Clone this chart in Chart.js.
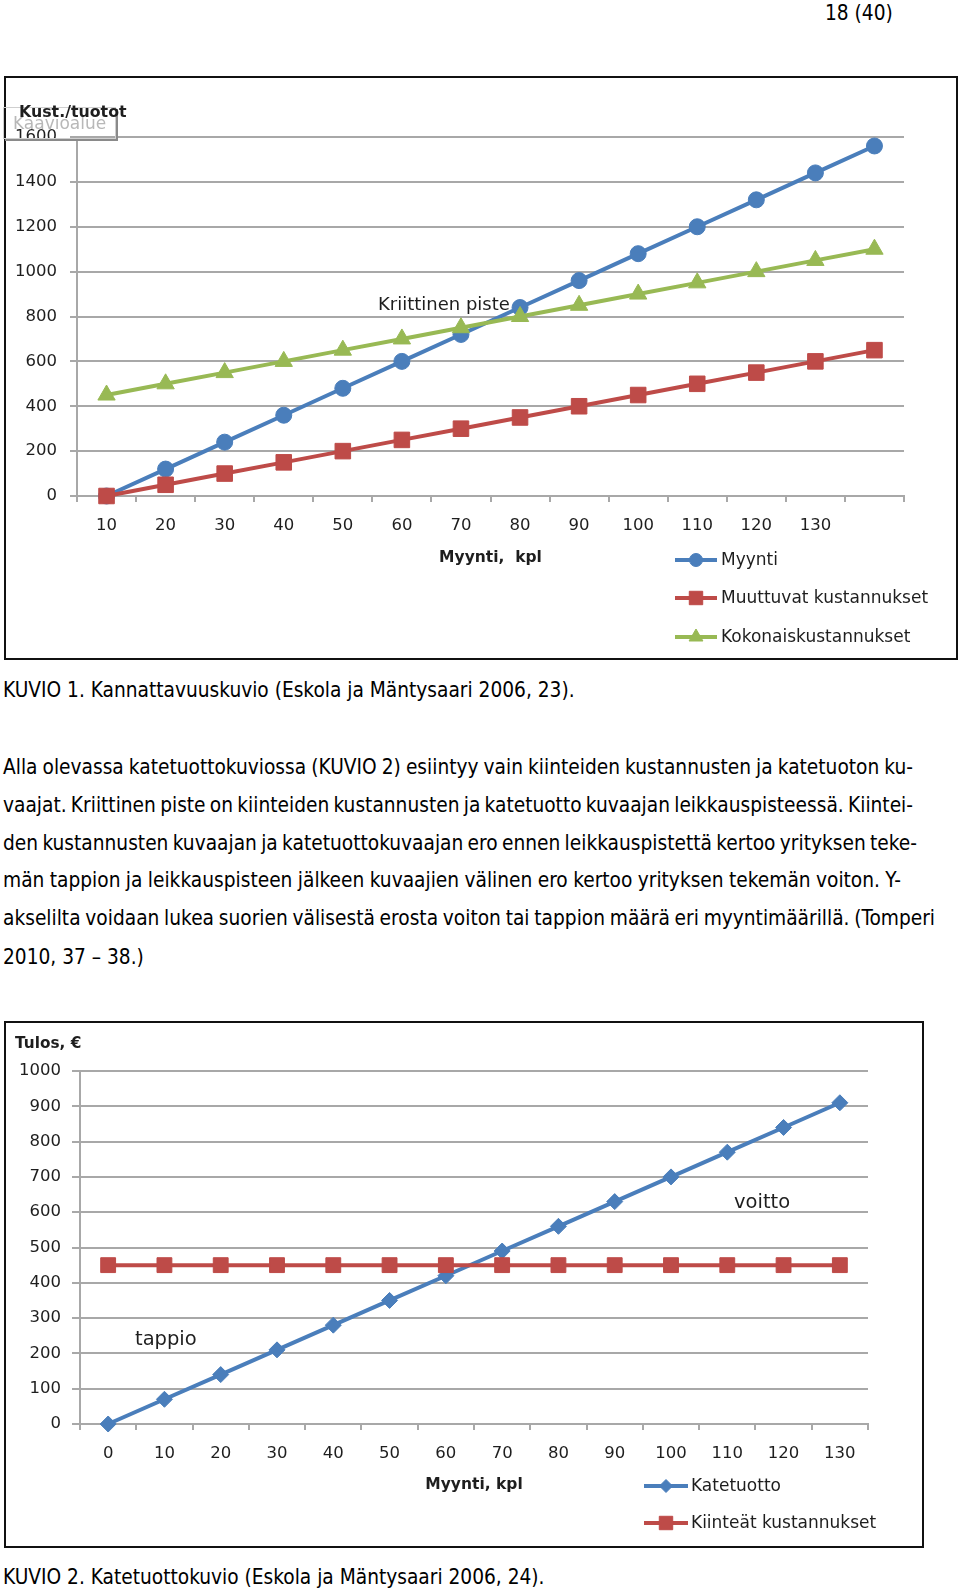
<!DOCTYPE html>
<html><head><meta charset="utf-8">
<script src="https://cdn.jsdelivr.net/npm/chart.js@4.4.1/dist/chart.umd.min.js"></script>
<style>
html,body{margin:0;padding:0;background:#fff;}
body{width:960px;height:1589px;position:relative;overflow:hidden;}
.t{position:absolute;white-space:nowrap;font-family:"DejaVu Sans Condensed","DejaVu Sans",sans-serif;color:#000;line-height:24px;height:24px;font-size:19px;}
.frame{position:absolute;border:2px solid #111;box-sizing:border-box;}
.frame canvas{position:absolute;left:0;top:0;}
.ann{position:absolute;white-space:nowrap;font-family:"DejaVu Sans",sans-serif;color:#1e1e1e;line-height:1;}
.ytitle{position:absolute;white-space:nowrap;font-family:"DejaVu Sans",sans-serif;font-weight:bold;color:#1e1e1e;line-height:1;z-index:3;}
#tip{position:absolute;left:3px;top:107px;width:111px;height:30px;border:1px solid #cfcfcf;box-shadow:2px 2px 0 #8a8a8a;z-index:2;}
#tip span{position:absolute;left:9px;top:7px;font-family:"DejaVu Sans",sans-serif;font-size:17px;color:#b8b8b8;line-height:1;}
</style></head>
<body>
<div class="t" id="pg" style="left:825px;top:1px;">18 (40)</div>

<div class="frame" style="left:4px;top:76px;width:954px;height:584px;"><canvas id="c1" width="950" height="580" style="width:950px;height:580px;"></canvas></div>
<div class="ytitle" style="left:19px;top:104px;font-size:15.8px;">Kust./tuotot</div>
<div id="tip"><span>Kaavioalue</span></div>
<div class="ann" style="left:378px;top:295px;font-size:18px;">Kriittinen piste</div>

<div class="t cap" id="cap1" data-w="572" style="left:3px;top:678px;">KUVIO 1. Kannattavuuskuvio (Eskola ja Mäntysaari 2006, 23).</div>

<div class="t j" data-w="910" style="left:3px;top:755px;">Alla olevassa katetuottokuviossa (KUVIO 2) esiintyy vain kiinteiden kustannusten ja katetuoton ku-</div>
<div class="t j" data-w="910" style="left:3px;top:793px;">vaajat. Kriittinen piste on kiinteiden kustannusten ja katetuotto kuvaajan leikkauspisteessä. Kiintei-</div>
<div class="t j" data-w="914" style="left:3px;top:831px;">den kustannusten kuvaajan ja katetuottokuvaajan ero ennen leikkauspistettä kertoo yrityksen teke-</div>
<div class="t j" data-w="898" style="left:3px;top:868px;">män tappion ja leikkauspisteen jälkeen kuvaajien välinen ero kertoo yrityksen tekemän voiton. Y-</div>
<div class="t j" data-w="932" style="left:3px;top:906px;">akselilta voidaan lukea suorien välisestä erosta voiton tai tappion määrä eri myyntimäärillä. (Tomperi</div>
<div class="t" style="left:3px;top:945px;">2010, 37 – 38.)</div>

<div class="frame" style="left:4px;top:1021px;width:920px;height:527px;"><canvas id="c2" width="916" height="523" style="width:916px;height:523px;"></canvas></div>
<div class="ytitle" style="left:15px;top:1036px;font-size:15.3px;">Tulos, €</div>
<div class="ann" style="left:734px;top:1192px;font-size:19.5px;">voitto</div>
<div class="ann" style="left:135px;top:1329px;font-size:19.5px;">tappio</div>

<div class="t" id="cap2" style="left:3px;top:1565px;">KUVIO 2. Katetuottokuvio (Eskola ja Mäntysaari 2006, 24).</div>

<script>
// ---- Data: KUVIO 1 ----
const topLabels = ['10','20','30','40','50','60','70','80','90','100','110','120','130',''];
const myynti = [0,120,240,360,480,600,720,840,960,1080,1200,1320,1440,1560];
const muuttuvat = [0,50,100,150,200,250,300,350,400,450,500,550,600,650];
const kokonais = [450,500,550,600,650,700,750,800,850,900,950,1000,1050,1100];
const topYTicks = [0,200,400,600,800,1000,1200,1400,1600];

// ---- Data: KUVIO 2 ----
const bottomLabels = ['0','10','20','30','40','50','60','70','80','90','100','110','120','130'];
const katetuotto = [0,70,140,210,280,350,420,490,560,630,700,770,840,910];
const kiinteat = [450,450,450,450,450,450,450,450,450,450,450,450,450,450];
const bottomYTicks = [0,100,200,300,400,500,600,700,800,900,1000];

// ---- text fitting ----
(function fitText(){
  const cap = document.getElementById('cap1');
  cap.style.fontSize = '20px';
  const w = cap.getBoundingClientRect().width;
  const fs = 20 * (+cap.dataset.w) / w;
  document.querySelectorAll('.t').forEach(el => el.style.fontSize = fs + 'px');
  document.querySelectorAll('.j').forEach(el => {
    el.style.wordSpacing = '0px';
    const nat = el.getBoundingClientRect().width;
    const spaces = (el.textContent.match(/ /g) || []).length;
    el.style.wordSpacing = ((+el.dataset.w - nat) / spaces) + 'px';
  });
})();

const FONT = 'DejaVu Sans';
const TXT = '#1e1e1e';
const GRID = '#a8a8a8';
const BLUE = '#4a7ebb', RED = '#be4b48', GREEN = '#98b954';

function drawMarker(ctx, style, r, x, y){
  if (Chart.helpers && Chart.helpers.drawPoint) {
    Chart.helpers.drawPoint(ctx, {pointStyle: style, radius: r, borderWidth: 1, rotation: 0}, x, y);
    return;
  }
  ctx.beginPath();
  if (style === 'circle') ctx.arc(x, y, r, 0, Math.PI * 2);
  else if (style === 'rect') { const s = r * Math.SQRT1_2; ctx.rect(x - s, y - s, 2 * s, 2 * s); }
  else if (style === 'rectRot') { ctx.moveTo(x - r, y); ctx.lineTo(x, y - r); ctx.lineTo(x + r, y); ctx.lineTo(x, y + r); ctx.closePath(); }
  else if (style === 'triangle') { ctx.moveTo(x, y - r); ctx.lineTo(x + r * 0.866, y + r / 2); ctx.lineTo(x - r * 0.866, y + r / 2); ctx.closePath(); }
  ctx.fill(); ctx.stroke();
}

const lineLegend = {
  id: 'lineLegend',
  afterDraw(chart, args, o) {
    const ctx = chart.ctx;
    ctx.save();
    chart.data.datasets.forEach((ds, i) => {
      const y = o.ys[i];
      ctx.strokeStyle = ds.borderColor;
      ctx.lineWidth = 4;
      ctx.beginPath(); ctx.moveTo(o.x0, y); ctx.lineTo(o.x1, y); ctx.stroke();
      ctx.fillStyle = ds.backgroundColor;
      ctx.strokeStyle = ds.borderColor;
      ctx.lineWidth = 1;
      drawMarker(ctx, ds.pointStyle, o.r[i], (o.x0 + o.x1) / 2, y);
      ctx.fillStyle = TXT;
      ctx.font = o.font;
      ctx.textBaseline = 'middle';
      ctx.textAlign = 'left';
      ctx.fillText(ds.label, o.tx, y + 1);
    });
    ctx.restore();
  }
};

function ds(label, data, color, style, r, order) {
  return {label, data, borderColor: color, backgroundColor: color,
    pointBackgroundColor: color, pointBorderColor: color, pointBorderWidth: 1,
    pointStyle: style, pointRadius: r, borderWidth: 4, tension: 0, order, clip: false};
}

function scales(yTicks, yMax, yWidth, yPad, yTickLen, xHeight, xTitle, titleSize) {
  const tickFont = {family: FONT, size: 16.5};
  return {
    x: {
      type: 'category', offset: true,
      grid: {offset: true, drawOnChartArea: false, drawTicks: true, tickLength: 6, color: GRID, lineWidth: 2},
      border: {display: true, color: GRID, width: 2},
      ticks: {font: tickFont, color: TXT, padding: 14, maxRotation: 0, autoSkip: false},
      title: {display: true, text: xTitle, font: {family: FONT, size: titleSize, weight: 'bold'}, color: TXT, padding: {top: 0, bottom: 0}},
      afterFit(s) { s.height = xHeight; }
    },
    y: {
      min: 0, max: yMax,
      afterBuildTicks(s) { s.ticks = yTicks.map(v => ({value: v})); },
      ticks: {font: tickFont, color: TXT, padding: yPad, callback: v => String(v)},
      grid: {color: GRID, lineWidth: 2, drawTicks: true, tickLength: yTickLen},
      border: {display: true, color: GRID, width: 2},
      afterFit(s) { s.width = yWidth; }
    }
  };
}

new Chart(document.getElementById('c1'), {
  type: 'line',
  data: {labels: topLabels, datasets: [
    ds('Myynti', myynti, BLUE, 'circle', 8, 3),
    ds('Muuttuvat kustannukset', muuttuvat, RED, 'rect', 11, 2),
    ds('Kokonaiskustannukset', kokonais, GREEN, 'triangle', 10, 1)
  ]},
  options: {
    responsive: false, animation: false, events: [],
    layout: {padding: {left: 0, top: 59, right: 52, bottom: 91}},
    plugins: {
      legend: {display: false}, tooltip: {enabled: false},
      lineLegend: {ys: [482, 520, 559], x0: 669, x1: 711, tx: 715, r: [6.5, 9.5, 8], font: '17px "DejaVu Sans"'}
    },
    scales: scales(topYTicks, 1600, 71, 13, 7, 71, 'Myynti,  kpl', 15.5)
  },
  plugins: [lineLegend]
});

new Chart(document.getElementById('c2'), {
  type: 'line',
  data: {labels: bottomLabels, datasets: [
    ds('Katetuotto', katetuotto, BLUE, 'rectRot', 8, 2),
    ds('Kiinteät kustannukset', kiinteat, RED, 'rect', 10.5, 1)
  ]},
  options: {
    responsive: false, animation: false, events: [],
    layout: {padding: {left: 0, top: 48, right: 54, bottom: 52}},
    plugins: {
      legend: {display: false}, tooltip: {enabled: false},
      lineLegend: {ys: [463, 500], x0: 638, x1: 682, tx: 685, r: [6.5, 9.5], font: '17px "DejaVu Sans"'}
    },
    scales: scales(bottomYTicks, 1000, 74, 11, 8, 70, 'Myynti, kpl', 15.5)
  },
  plugins: [lineLegend]
});
</script>
</body></html>
